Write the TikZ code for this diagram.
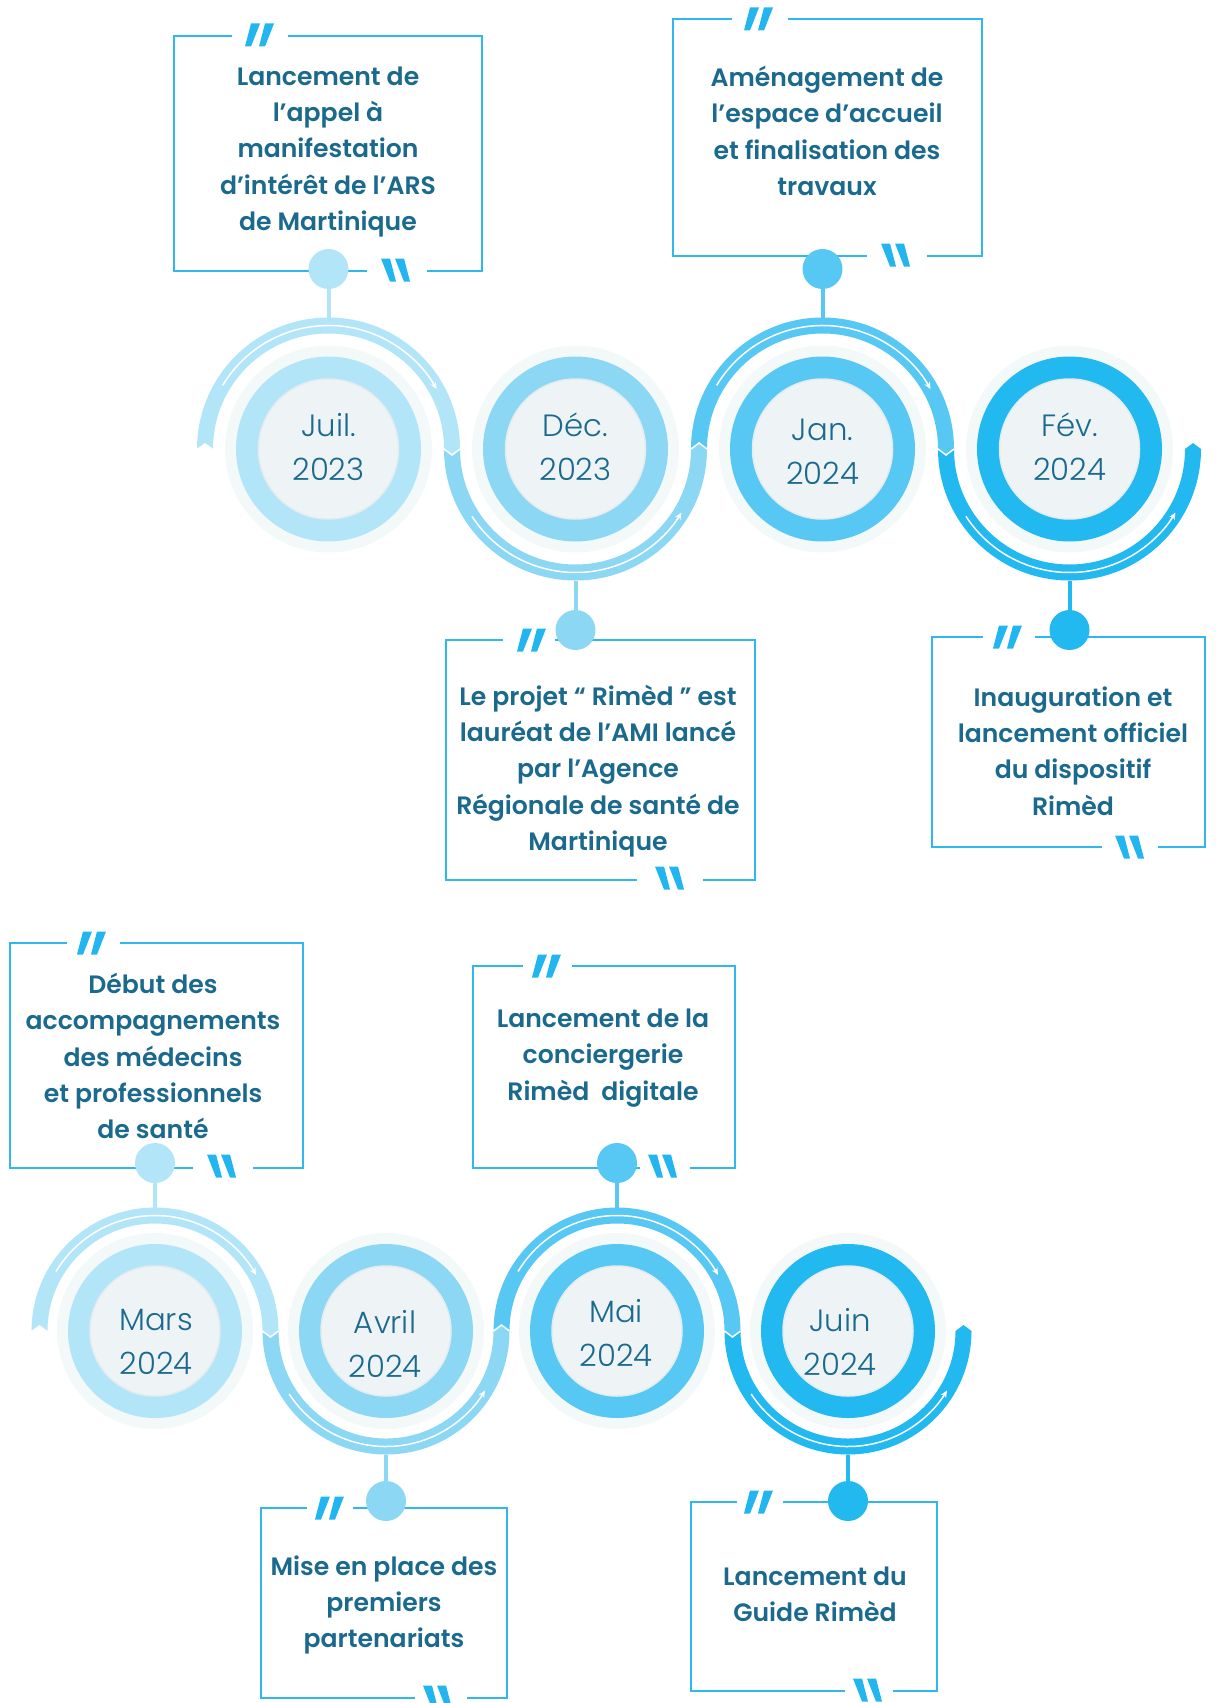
\documentclass[tikz,border=0pt]{standalone}
\usepackage{fontspec}
\usepackage{tikz}
\usetikzlibrary{arrows.meta}
\newfontfamily\boxfont{Poppins SemiBold}
\newfontfamily\datefont{Poppins Light}
\definecolor{stepA}{HTML}{B3E5F8}
\definecolor{stepB}{HTML}{8BD7F4}
\definecolor{stepC}{HTML}{56C8F3}
\definecolor{stepD}{HTML}{22B8F0}
\definecolor{disc}{HTML}{EEF4F5}
\definecolor{discline}{HTML}{E4ECEF}
\definecolor{halo}{HTML}{F3F8F9}
\definecolor{ink}{HTML}{1B6A8E}
\definecolor{frame}{HTML}{2FB7F0}
\definecolor{quote}{HTML}{22B5F0}
\tikzstyle{frameline} = [draw=frame, line width=0.055cm]
\tikzstyle{boxtext} = [text=ink, align=center, inner sep=0,
    font=\boxfont\fontsize{14.3}{20.7}\selectfont]
\tikzstyle{datetext} = [text=ink, align=center, inner sep=0,
    font=\datefont\fontsize{17.5}{25}\selectfont]
\tikzstyle{dot} = [circle, inner sep=0, minimum size=0.8cm]
\tikzstyle{stem} = [line width=0.08cm]
\tikzstyle{band} = [line width=0.32cm]
\tikzstyle{flow} = [draw=white, line width=0.03cm, -{Stealth[length=4pt,width=3.5pt]}]
\tikzstyle{chevron} = [draw=white, line width=0.03cm]
% quotation marks centred on (#1,#2)
\newcommand{\openq}[2]{%
  \foreach \s in {0,14}
    \fill[quote] ({#1-15+\s},{#2+11.5}) -- ({#1-9+\s},{#2+11.5})
      -- ({#1+\s},{#2-11.5}) -- ({#1-9+\s},{#2-11.5}) -- cycle;}
\newcommand{\closeq}[2]{%
  \foreach \s in {0,14}
    \fill[quote] ({#1-14+\s},{#2-11.5}) -- ({#1-5+\s},{#2-11.5})
      -- ({#1+1+\s},{#2+11.5}) -- ({#1-5+\s},{#2+11.5}) -- cycle;}
% frame: left, top, right, bottom, gap in top edge, gap in bottom edge
\newcommand{\qframe}[8]{%
  \draw[frameline] (#6,#2) -- (#3,#2) -- (#3,#4) -- (#8,#4);
  \draw[frameline] (#7,#4) -- (#1,#4) -- (#1,#2) -- (#5,#2);}
% date ring: x, y, colour, outer radius, inner radius
\newcommand{\datering}[5]{%
  \fill[halo] (#1,#2) circle[radius={#4+11}];
  \fill[#3] (#1,#2) circle[radius=#4];
  \fill[disc] (#1,#2) circle[radius=#5];
  \draw[discline, line width=0.03cm] (#1,#2) circle[radius=#5];}

\begin{document}
\begin{tikzpicture}[x=0.02cm, y=-0.02cm]
    \useasboundingbox (0,0) rectangle (1216,1703);

    % frames
    \qframe{174}{36}{482}{271}{232}{288}{367}{427}
    \qframe{673}{19}{982}{256}{732}{788}{867}{927}
    \qframe{446}{640}{755}{880}{503}{555}{637}{703}
    \qframe{932}{637}{1205}{847}{983}{1035}{1102}{1158}
    \qframe{10}{943}{303}{1168}{67}{120}{193}{253}
    \qframe{473}{966}{735}{1168}{523}{572}{640}{690}
    \qframe{261}{1508}{507}{1698}{307}{353}{415}{467}
    \qframe{691}{1502}{937}{1691}{737}{783}{845}{893}

    % ribbon, first row
    \draw[band, stepA] (205,449) arc[start angle=180, end angle=360, radius=123.5];
    \draw[band, stepB] (452,449) arc[start angle=180, end angle=0, radius=123.5];
    \draw[band, stepC] (699,449) arc[start angle=180, end angle=360, radius=123.5];
    \draw[band, stepD] (946,449) arc[start angle=180, end angle=0, radius=123.5];
    \fill[white] (196,449.5) -- (214,449.5) -- (205,443) -- cycle;
    \fill[stepA] (444,449) -- (460,449) -- (452,455) -- cycle;
    \draw[chevron] (444,449) -- (452,455) -- (460,449);
    \fill[stepB] (691,449) -- (707,449) -- (699,443) -- cycle;
    \draw[chevron] (691,449) -- (699,443) -- (707,449);
    \fill[stepC] (938,449) -- (954,449) -- (946,455) -- cycle;
    \draw[chevron] (938,449) -- (946,455) -- (954,449);
    \fill[stepD] (1185,449) -- (1201,449) -- (1193,443) -- cycle;
    \draw[flow] (328.5,449) ++(211:123.5) arc[start angle=211, end angle=331, radius=123.5];
    \draw[flow] (575.5,449) ++(147:123.5) arc[start angle=147, end angle=31, radius=123.5];
    \draw[flow] (822.5,449) ++(211:123.5) arc[start angle=211, end angle=331, radius=123.5];
    \draw[flow] (1069.5,449) ++(147:123.5) arc[start angle=147, end angle=31, radius=123.5];

    % ribbon, second row
    \draw[band, stepA] (39.5,1331) arc[start angle=180, end angle=360, radius=115.5];
    \draw[band, stepB] (270.5,1331) arc[start angle=180, end angle=0, radius=115.5];
    \draw[band, stepC] (501.5,1331) arc[start angle=180, end angle=360, radius=115.5];
    \draw[band, stepD] (732.5,1331) arc[start angle=180, end angle=0, radius=115.5];
    \fill[white] (30.5,1331.5) -- (48.5,1331.5) -- (39.5,1325) -- cycle;
    \fill[stepA] (262.5,1331) -- (278.5,1331) -- (270.5,1337) -- cycle;
    \draw[chevron] (262.5,1331) -- (270.5,1337) -- (278.5,1331);
    \fill[stepB] (493.5,1331) -- (509.5,1331) -- (501.5,1325) -- cycle;
    \draw[chevron] (493.5,1331) -- (501.5,1325) -- (509.5,1331);
    \fill[stepC] (724.5,1331) -- (740.5,1331) -- (732.5,1337) -- cycle;
    \draw[chevron] (724.5,1331) -- (732.5,1337) -- (740.5,1331);
    \fill[stepD] (955.5,1331) -- (971.5,1331) -- (963.5,1325) -- cycle;
    \draw[flow] (155,1331) ++(211:115.5) arc[start angle=211, end angle=331, radius=115.5];
    \draw[flow] (386,1331) ++(147:115.5) arc[start angle=147, end angle=31, radius=115.5];
    \draw[flow] (617,1331) ++(211:115.5) arc[start angle=211, end angle=331, radius=115.5];
    \draw[flow] (848,1331) ++(147:115.5) arc[start angle=147, end angle=31, radius=115.5];

    % date rings
    \datering{328.5}{449}{stepA}{92.5}{70}
    \datering{575.5}{449}{stepB}{92.5}{70}
    \datering{822.5}{449}{stepC}{92.5}{70}
    \datering{1069.5}{449}{stepD}{92.5}{70}
    \datering{155}{1331}{stepA}{87}{65}
    \datering{386}{1331}{stepB}{87}{65}
    \datering{617}{1331}{stepC}{87}{65}
    \datering{848}{1331}{stepD}{87}{65}
    \node[datetext] (juil) at (328.5,447) {Juil.\\2023};
    \node[datetext] (dec) at (575.5,447) {Déc.\\2023};
    \node[datetext] (jan) at (822.5,452) {Jan.\\2024};
    \node[datetext] (fev) at (1069.5,447) {Fév.\\2024};
    \node[datetext] (mars) at (156,1342) {Mars\\2024};
    \node[datetext] (avril) at (385,1344) {Avril\\2024};
    \node[datetext] (mai) at (616,1333) {Mai\\2024};
    \node[datetext] (juin) at (840,1342) {Juin\\2024};

    % stems and dots
    \coordinate (a1) at (328.5,317.5);
    \coordinate (a2) at (575.5,580.5);
    \coordinate (a3) at (822.5,317.5);
    \coordinate (a4) at (1069.5,580.5);
    \coordinate (a5) at (155,1207.5);
    \coordinate (a6) at (386,1454.5);
    \coordinate (a7) at (617,1207.5);
    \coordinate (a8) at (848,1454.5);
    \node[dot, fill=stepA] (d1) at (328.5,269) {};
    \node[dot, fill=stepB] (d2) at (575.5,630) {};
    \node[dot, fill=stepC] (d3) at (822.5,269) {};
    \node[dot, fill=stepD] (d4) at (1069.5,630) {};
    \node[dot, fill=stepA] (d5) at (155,1163) {};
    \node[dot, fill=stepB] (d6) at (386,1501) {};
    \node[dot, fill=stepC] (d7) at (617,1163) {};
    \node[dot, fill=stepD] (d8) at (848,1501) {};
    \draw[stem, stepA] (d1) -- (a1);
    \draw[stem, stepB] (d2) -- (a2);
    \draw[stem, stepC] (d3) -- (a3);
    \draw[stem, stepD] (d4) -- (a4);
    \draw[stem, stepA] (d5) -- (a5);
    \draw[stem, stepB] (d6) -- (a6);
    \draw[stem, stepC] (d7) -- (a7);
    \draw[stem, stepD] (d8) -- (a8);

    % quotation marks
    \openq{260}{35} \closeq{395}{270}
    \openq{759}{19} \closeq{895}{255}
    \openq{532}{640} \closeq{669}{878}
    \openq{1008}{637} \closeq{1129}{847}
    \openq{92}{943} \closeq{221}{1166}
    \openq{547}{966} \closeq{662}{1166}
    \openq{330}{1508} \closeq{437}{1697}
    \openq{759}{1502} \closeq{867}{1690}

    % texts
    \node[boxtext] (t1) at (328,152) {Lancement de\\l’appel à\\manifestation\\d’intérêt de l’ARS\\de Martinique};
    \node[boxtext] (t2) at (827,131) {Aménagement de\\l’espace d’accueil\\et finalisation des\\travaux};
    \node[boxtext] (t3) at (598,771) {Le projet “ Rimèd ” est\\lauréat de l’AMI lancé\\par l’Agence\\Régionale de santé de\\Martinique};
    \node[boxtext] (t4) at (1073,751) {Inauguration et\\lancement officiel\\du dispositif\\Rimèd};
    \node[boxtext] (t5) at (153,1056) {Début des\\accompagnements\\des médecins\\et professionnels\\de santé};
    \node[boxtext] (t6) at (603,1058) {Lancement de la\\conciergerie\\Rimèd~ digitale};
    \node[boxtext] (t7) at (384,1605) {Mise en place des\\premiers\\partenariats};
    \node[boxtext] (t8) at (815,1594) {Lancement du\\Guide Rimèd};
\end{tikzpicture}
\end{document}
